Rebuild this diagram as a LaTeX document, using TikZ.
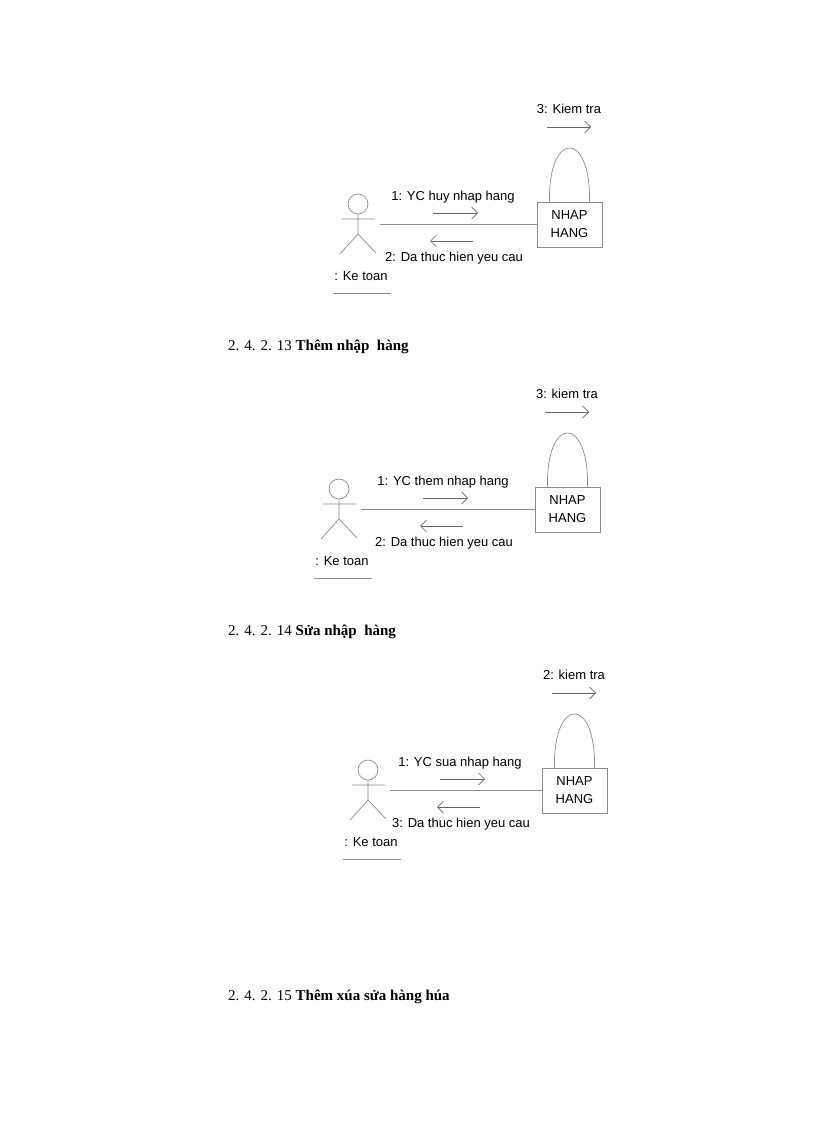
\documentclass[tikz,border=0pt]{standalone}
\usetikzlibrary{arrows.meta}
\usepackage{fontspec}
\setmainfont{Liberation Serif}
\newfontfamily\sansf{Liberation Sans}
\begin{document}
\begin{tikzpicture}[x=1pt,y=-1pt,
  ln/.style={draw=black!45,line width=0.7pt},
  lbl/.style={font=\sansf\fontsize{13}{15}\selectfont,inner sep=0pt},
  head/.style={font=\fontsize{15}{18}\selectfont,anchor=west,inner sep=0pt},
  arr/.style={draw=black!60,line width=0.7pt,-{Straight Barb[length=6pt,width=12pt]}}]
\useasboundingbox (0,0) rectangle (816,1123);
\newcommand\colldiag[8]{%
\begin{scope}[shift={(#2,#3)}]
  \node[circle,ln,minimum size=20pt,inner sep=0pt] (#1head) at (358,204) {};
  \coordinate (#1hip) at (358,234);
  \coordinate (#1la) at (342,219);
  \coordinate (#1ra) at (375,219);
  \coordinate (#1ll) at (340,254);
  \coordinate (#1rl) at (376,253);
  \draw[ln] (#1head.south) -- (#1hip) (#1la) -- (#1ra) (#1ll) -- (#1hip) -- (#1rl);
  \node[lbl] (#1act) at (361,276) {: Ke toan};
  \coordinate (#1u1) at (333,293); \coordinate (#1u2) at (391,293);
  \draw[ln] (#1u1) -- (#1u2);
  \coordinate (#1ls) at (380,224);
\end{scope}
\begin{scope}[shift={(#7,#3)}]
  \node[draw=black!45,line width=0.7pt,minimum width=65pt,minimum height=45pt,lbl,align=center,font=\sansf\fontsize{13}{18}\selectfont] (#1box) at (569.5,224.5) {NHAP\\HANG};
  \draw[ln] ([xshift=-20pt]#1box.north) .. controls (548,130) and (591,130) .. ([xshift=20pt]#1box.north);
  \coordinate (#1a1) at (547,127); \coordinate (#1a2) at (591,127);
  \draw[arr] (#1a1) -- (#1a2);
  \node[lbl] (#1lp) at (569,109) {#6};
\end{scope}
\draw[ln] (#1ls) -- (#1box.west |- #1ls);
\begin{scope}[shift={(#8,#3)}]
  \coordinate (#1m1) at (433,213); \coordinate (#1m2) at (478,213);
  \draw[arr] (#1m1) -- (#1m2);
  \node[lbl] (#1t1) at (453,197) {#4};
  \coordinate (#1r1) at (473,241); \coordinate (#1r2) at (430,241);
  \draw[arr] (#1r1) -- (#1r2);
  \node[lbl] (#1t2) at (454,258) {#5};
\end{scope}}
\colldiag{a}{0}{0}{1: YC huy nhap hang}{2: Da thuc hien yeu cau}{3: Kiem tra}{0}{0}
\colldiag{b}{-19}{285}{1: YC them nhap hang}{2: Da thuc hien yeu cau}{3: kiem tra}{-2}{-10}
\colldiag{c}{10}{566}{1: YC sua nhap hang}{3: Da thuc hien yeu cau}{2: kiem tra}{5}{7}
\node[head] (h1) at (228,347) {2. 4. 2. 13 \textbf{Thêm nhập\ \ hàng}};
\node[head] (h2) at (228,632) {2. 4. 2. 14 \textbf{Sửa nhập\ \ hàng}};
\node[head] (h3) at (228,997) {2. 4. 2. 15 \textbf{Thêm xúa sửa hàng húa}};
\end{tikzpicture}
\end{document}
